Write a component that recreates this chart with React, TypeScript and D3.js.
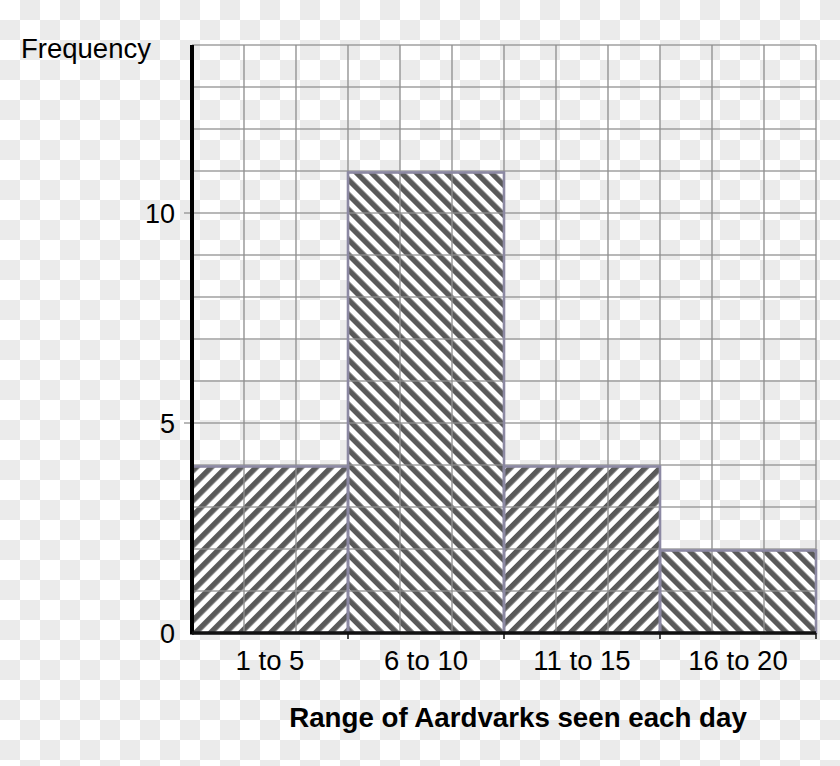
import React from "react";
import * as d3 from "d3";

const categories = ["1 to 5", "6 to 10", "11 to 15", "16 to 20"];
const frequencies = [4, 11, 4, 2];
const hatchDirections = ["up", "down", "up", "down"];
const yTickValues = [0, 5, 10];
const yMax = 14;
const gridColumns = 12;
const yLabel = "Frequency";
const xLabel = "Range of Aardvarks seen each day";

const W = 840;
const H = 766;
const left = 192;
const right = 816;
const top = 45;
const bottom = 633;
const FONT = "'Liberation Sans', Arial, sans-serif";
const P = 10.6;
const D = 5.6;

export default function App() {
  React.useEffect(() => {
    document.body.style.margin = "0";
  }, []);

  const x = d3.scaleBand<string>().domain(categories).range([left, right]).padding(0);
  const xg = d3.scaleLinear().domain([0, gridColumns]).range([left, right]);
  const y = d3.scaleLinear().domain([0, yMax]).range([bottom, top]);

  const vLines = d3.range(0, gridColumns + 1);
  const hLines = d3.range(0, yMax + 1);

  return (
    <svg width={W} height={H} style={{ display: "block", position: "absolute", left: 0, top: 0 }}>
      <defs>
        <pattern id="checker" width={40} height={40} patternUnits="userSpaceOnUse">
          <rect x={0} y={0} width={40} height={40} fill="#ffffff" />
          <rect x={20} y={0} width={20} height={20} fill="#ebebeb" />
          <rect x={0} y={20} width={20} height={20} fill="#ebebeb" />
        </pattern>
        <pattern id="hatch-up" width={P} height={P} patternUnits="userSpaceOnUse" patternTransform="rotate(45)">
          <rect x={0} y={0} width={D} height={P} fill="#5a5a5a" />
          <rect x={D} y={0} width={P - D} height={P} fill="#ffffff" />
        </pattern>
        <pattern id="hatch-down" width={P} height={P} patternUnits="userSpaceOnUse" patternTransform="rotate(-45)">
          <rect x={0} y={0} width={D} height={P} fill="#5a5a5a" />
          <rect x={D} y={0} width={P - D} height={P} fill="#ffffff" />
        </pattern>
      </defs>
      <rect x={0} y={0} width={W} height={H} fill="url(#checker)" />

      {/* bars */}
      <g>
        {categories.map((c, i) => (
          <rect
            key={c}
            x={x(c)!}
            y={y(frequencies[i]) + 1.5}
            width={x.bandwidth()}
            height={bottom - y(frequencies[i]) - 1.5}
            fill={`url(#hatch-${hatchDirections[i]})`}
          />
        ))}
      </g>

      {/* grid */}
      <g stroke="#8f8f8f" strokeWidth={1.6} strokeOpacity={0.85}>
        {vLines.map((v) => (
          <line key={"v" + v} x1={xg(v)} x2={xg(v)} y1={top} y2={bottom} />
        ))}
        {hLines.map((h) => (
          <line
            key={"h" + h}
            x1={yTickValues.includes(h) && h !== 0 ? left - 8 : left}
            x2={right}
            y1={y(h)}
            y2={y(h)}
          />
        ))}
      </g>

      {/* bar outlines */}
      <g fill="none" stroke="#8c89a3" strokeWidth={2.6}>
        {categories.map((c, i) => (
          <rect
            key={"o" + c}
            x={x(c)!}
            y={y(frequencies[i]) + 1.5}
            width={x.bandwidth()}
            height={bottom - y(frequencies[i]) - 1.5}
          />
        ))}
      </g>

      {/* axes */}
      <line x1={left} x2={left} y1={top} y2={bottom + 1.5} stroke="#000" strokeWidth={4} />
      <line x1={left} x2={right} y1={bottom} y2={bottom} stroke="#111" strokeWidth={3.5} />
      {categories.map((c) => (
        <line key={"t" + c} x1={x(c)! + x.bandwidth()} x2={x(c)! + x.bandwidth()} y1={bottom} y2={bottom + 6} stroke="#111" strokeWidth={1.5} />
      ))}

      {/* y tick labels */}
      <g fontFamily={FONT} fontSize={27} fill="#000" textAnchor="end">
        {yTickValues.map((t) => (
          <text key={"yl" + t} x={175} y={y(t)} dy="0.36em">
            {t}
          </text>
        ))}
      </g>

      {/* x labels */}
      <g fontFamily={FONT} fontSize={27.5} fill="#000" textAnchor="middle">
        {categories.map((c) => (
          <text key={"xl" + c} x={x(c)! + x.bandwidth() / 2} y={670}>
            {c}
          </text>
        ))}
      </g>

      <text x={21} y={58} fontFamily={FONT} fontSize={27.5} fill="#000">
        {yLabel}
      </text>
      <text x={518} y={727} fontFamily={FONT} fontSize={27.7} fontWeight="bold" fill="#000" textAnchor="middle">
        {xLabel}
      </text>
    </svg>
  );
}
